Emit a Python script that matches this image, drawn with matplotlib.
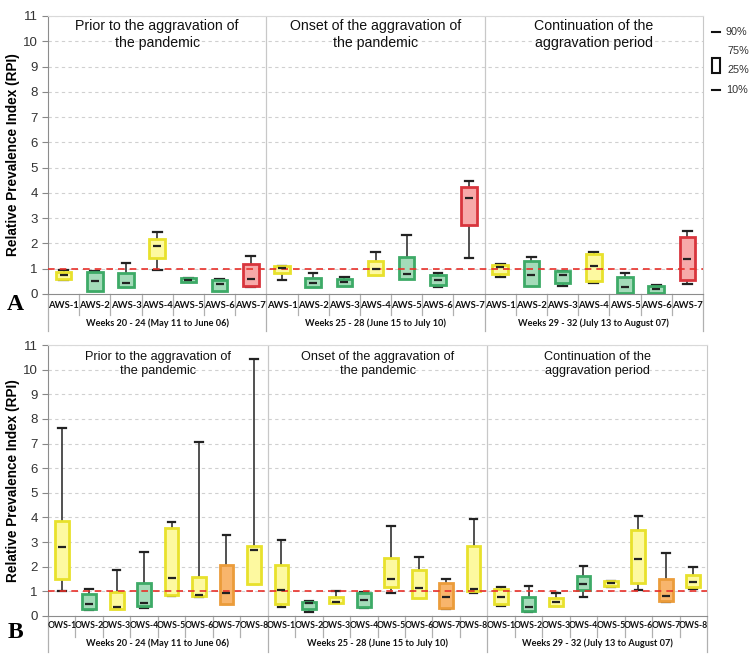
import matplotlib
matplotlib.use("Agg")
import matplotlib.pyplot as plt
from matplotlib.patches import Rectangle

# ---------------- data ----------------
section_titles = ["Prior to the aggravation of\nthe pandemic",
                  "Onset of the aggravation of\nthe pandemic",
                  "Continuation of the\naggravation period"]
week_labels = ["Weeks 20 - 24 (May 11 to June 06)",
               "Weeks 25 - 28 (June 15 to July 10)",
               "Weeks 29 - 32 (July 13 to August 07)"]

aws_names = ["AWS-1", "AWS-2", "AWS-3", "AWS-4", "AWS-5", "AWS-6", "AWS-7"]
aws_colors = ["Y", "G", "G", "Y", "G", "G", "R"]
# 21 values: 3 periods x 7 stations
a_p10 = [0.56, 0.10, 0.27, 0.95, 0.49, 0.11, 0.27,
         0.55, 0.26, 0.31, 0.74, 0.62, 0.26, 1.43,
         0.66, 0.30, 0.32, 0.44, 0.05, 0.05, 0.38]
a_p25 = [0.59, 0.11, 0.27, 1.44, 0.46, 0.12, 0.33,
         0.82, 0.26, 0.32, 0.74, 0.59, 0.35, 2.72,
         0.79, 0.30, 0.43, 0.51, 0.05, 0.05, 0.54]
a_med = [0.77, 0.50, 0.44, 1.88, 0.56, 0.38, 0.60,
         1.02, 0.42, 0.46, 0.97, 0.80, 0.55, 3.80,
         1.08, 0.76, 0.74, 1.09, 0.28, 0.19, 1.37]
a_p75 = [0.89, 0.89, 0.82, 2.16, 0.65, 0.55, 1.20,
         1.09, 0.62, 0.61, 1.30, 1.45, 0.74, 4.25,
         1.15, 1.32, 0.90, 1.58, 0.66, 0.30, 2.24]
a_p90 = [0.96, 0.91, 1.23, 2.44, 0.62, 0.59, 1.51,
         1.09, 0.82, 0.68, 1.66, 2.34, 0.83, 4.47,
         1.18, 1.45, 0.90, 1.65, 0.83, 0.34, 2.51]

ows_names = ["OWS-1", "OWS-2", "OWS-3", "OWS-4", "OWS-5", "OWS-6", "OWS-7", "OWS-8"]
ows_colors = ["Y", "G", "Y", "G", "Y", "Y", "O", "Y"]
# 24 values: 3 periods x 8 stations
b_p10 = [1.02, 0.25, 0.27, 0.33, 0.83, 0.78, 0.48, 1.30,
         0.38, 0.16, 0.52, 0.33, 0.95, 0.75, 0.27, 0.94,
         0.41, 0.15, 0.41, 0.76, 1.17, 1.05, 0.56, 1.09]
b_p25 = [1.50, 0.27, 0.27, 0.41, 0.87, 0.83, 0.48, 1.31,
         0.48, 0.29, 0.52, 0.35, 1.16, 0.75, 0.31, 1.02,
         0.48, 0.20, 0.41, 1.05, 1.20, 1.34, 0.60, 1.19]
b_med = [2.80, 0.49, 0.38, 0.52, 1.56, 0.87, 0.93, 2.67,
         1.04, 0.52, 0.57, 0.65, 1.49, 1.15, 0.79, 1.09,
         0.78, 0.37, 0.58, 1.31, 1.34, 2.32, 0.82, 1.39]
b_p75 = [3.86, 0.90, 0.97, 1.32, 3.59, 1.58, 2.09, 2.84,
         2.07, 0.56, 0.76, 0.95, 2.35, 1.86, 1.32, 2.86,
         1.08, 0.79, 0.72, 1.62, 1.42, 3.48, 1.51, 1.68]
b_p90 = [7.65, 1.09, 1.87, 2.61, 3.82, 7.07, 3.30, 10.42,
         3.08, 0.59, 1.01, 0.98, 3.66, 2.40, 1.49, 3.92,
         1.16, 1.23, 0.93, 2.03, 1.42, 4.07, 2.55, 1.99]

palette = {"Y": ("#fdf9a0", "#e8e12c"),
           "G": ("#a4dbb9", "#3daa67"),
           "R": ("#f7a9a9", "#d8353d"),
           "O": ("#f8b56c", "#eb9c3a")}

plt.rcParams['font.family'] = ['Liberation Sans', 'DejaVu Sans']

fig = plt.figure(figsize=(7.5, 6.6), dpi=100)
W, H = 750.0, 660.0


def draw_panel(rect, names, cols, p10, p25, med, p75, p90, offs, cat_fs, title_fs, title_ls, title_y):
    lab_y, sep_y, grp_y, sec_y = offs
    ax = fig.add_axes(rect)
    n_per = len(names)
    n = len(p10)
    stats = []
    for i in range(n):
        stats.append(dict(whislo=p10[i], q1=p25[i], med=med[i], q3=p75[i],
                          whishi=p90[i], fliers=[]))
    pos = list(range(n))
    bp = ax.bxp(stats, positions=pos, widths=0.5, patch_artist=True,
                showfliers=False, capwidths=0.28,
                whiskerprops=dict(color="#333333", lw=1.2),
                capprops=dict(color="#222222", lw=1.6),
                medianprops=dict(color="none"))
    for i, b in enumerate(bp['boxes']):
        fc, ec = palette[cols[i % n_per]]
        b.set_facecolor(fc)
        b.set_edgecolor(ec)
        b.set_linewidth(2.0)
        b.set_zorder(3)
    ax.scatter(pos, med, marker="_", s=30, color="#222222", linewidths=1.6, zorder=5)

    ax.set_xlim(-0.5, n - 0.5)
    ax.set_ylim(0, 11)
    ax.set_yticks(range(0, 12))
    ax.tick_params(axis='y', length=4, color="#888888", labelsize=9.5, labelcolor="#333333")
    ax.set_xticks([])
    for y in range(1, 12):
        ax.axhline(y, color="#d0d0d0", lw=0.8, ls=(0, (3, 3)), zorder=0)
    ax.axhline(1, color="#e8302a", lw=1.2, ls=(0, (4, 3)), zorder=4)
    ax.spines['left'].set_color("#8c8c8c")
    ax.spines['bottom'].set_color("#8c8c8c")
    ax.spines['top'].set_color("#d9d9d9")
    ax.spines['right'].set_color("#c8c8c8")
    ax.set_ylabel("Relative Prevalence Index (RPI)", fontsize=9.8, fontweight='bold')
    ax.yaxis.set_label_coords((20 - 48) / (rect[2] * W), 0.5)

    tr = ax.get_xaxis_transform()
    for k in range(n + 1):
        x = k - 0.5
        if k % n_per == 0:
            ax.plot([x, x], [0, sec_y], transform=tr, color="#b0b0b0", lw=0.9, clip_on=False)
        else:
            ax.plot([x, x], [0, sep_y], transform=tr, color="#b0b0b0", lw=0.9, clip_on=False)
    for i in range(n):
        ax.text(i, lab_y, names[i % n_per], transform=tr, ha='center', va='center',
                fontsize=cat_fs, fontweight='bold', color="#111111", family=['Lato', 'DejaVu Sans'])
    for s in range(3):
        c = s * n_per + (n_per - 1) / 2
        ax.text(c, grp_y, week_labels[s], transform=tr, ha='center', va='center',
                fontsize=6.6, fontweight='bold', color="#111111", family=['Lato', 'DejaVu Sans'])
        ax.text(c, title_y, section_titles[s], ha='center', va='top', fontsize=title_fs,
                color="#111111", linespacing=title_ls)
        if s > 0:
            ax.axvline(s * n_per - 0.5, color="#c8c8c8", lw=0.9, zorder=0)
    return ax


axA = draw_panel([48 / W, 1 - 294 / H, (703 - 48) / W, (294 - 16) / H],
                 aws_names, aws_colors, a_p10, a_p25, a_med, a_p75, a_p90,
                 (-(306 - 294) / 278, -(315 - 294) / 278, -(323 - 294) / 278, -(331 - 294) / 278),
                 6.8, 10.2, 1.25, 10.88)
axB = draw_panel([48 / W, 1 - 616 / H, (707 - 48) / W, (616 - 345) / H],
                 ows_names, ows_colors, b_p10, b_p25, b_med, b_p75, b_p90,
                 (-(626 - 616) / 271, -(637 - 616) / 271, -(643 - 616) / 271, -(652 - 616) / 271),
                 6.2, 9.1, 1.18, 10.75)

fig.text(15 / W, 1 - 305 / H, "A", fontsize=17, fontweight='bold', family=['Liberation Serif'],
         ha='center', va='center')
fig.text(15 / W, 1 - 632 / H, "B", fontsize=17, fontweight='bold', family=['Liberation Serif'],
         ha='center', va='center')

lc = "#333333"
fig.add_artist(plt.Line2D([712 / W, 720 / W], [1 - 32 / H, 1 - 32 / H], color="#111111", lw=1.5))
fig.text(726 / W, 1 - 32 / H, "90%", fontsize=7.8, color=lc, va='center')
fig.text(727 / W, 1 - 51 / H, "75%", fontsize=7.8, color=lc, va='center')
fig.add_artist(Rectangle((712 / W, 1 - 73 / H), 8 / W, 15 / H, transform=fig.transFigure,
                         fill=False, edgecolor="#111111", lw=1.5))
fig.text(727 / W, 1 - 70 / H, "25%", fontsize=7.8, color=lc, va='center')
fig.add_artist(plt.Line2D([712 / W, 720 / W], [1 - 90 / H, 1 - 90 / H], color="#111111", lw=1.5))
fig.text(726 / W, 1 - 90 / H, "10%", fontsize=7.8, color=lc, va='center')

fig.savefig("out.png", dpi=100)
